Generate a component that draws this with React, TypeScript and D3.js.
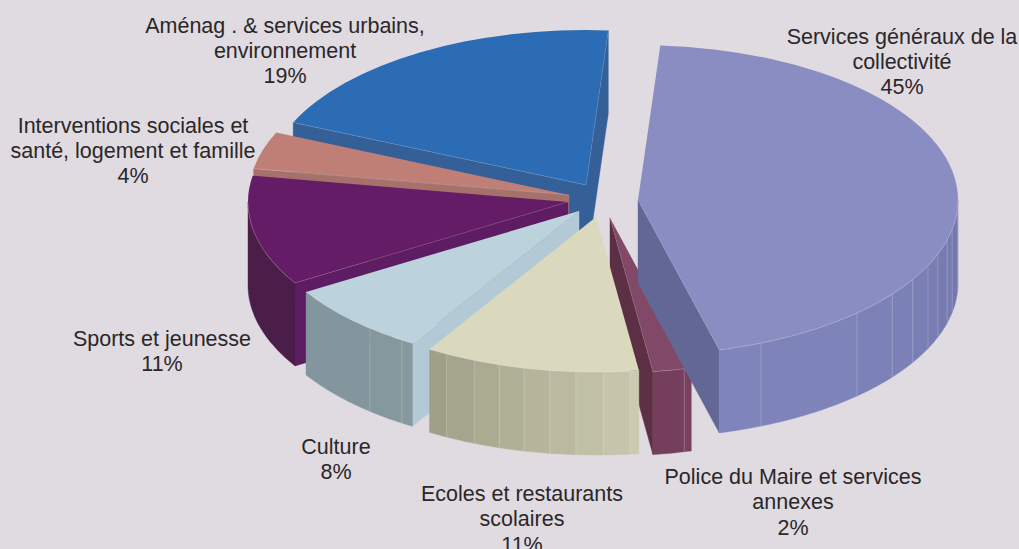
import React from "react";
import * as d3 from "d3";

const WIDTH = 1019;
const HEIGHT = 549;

// Data
const categories = ["Services généraux", "Police", "Ecoles", "Culture", "Sports", "Interventions", "Aménag"];
const shareValues = [44.8, 1.95, 10.85, 7.55, 11.45, 3.9, 19.5];
const labelLines = [
  ["Services généraux de la", "collectivité", "45%"],
  ["Police du Maire et services", "annexes", "2%"],
  ["Ecoles et restaurants", "scolaires", "11%"],
  ["Culture", "8%"],
  ["Sports et jeunesse", "11%"],
  ["Interventions sociales et", "santé, logement et famille", "4%"],
  ["Aménag . & services urbains,", "environnement", "19%"],
];
// Facet seams on the outer rim, in degrees of pie angle
const facetSeams = [
  [94, 101, 105, 110.4, 115, 120.8, 127.4, 136.8, 157.4],
  [166.6],
  [173.9, 178.7, 183.6, 188.3, 193, 197.6, 202.4, 207.8],
  [213.6, 220.8],
  [],
  [],
  [],
];

// Styles and layout
const topColors = ["#8a8dc2", "#814868", "#dad9bd", "#bcd3de", "#651c67", "#c07f76", "#2b6cb4"];
const wallColors = ["#636795", "#5c2f45", "#a8a78d", "#b3cad6", "#5e1c62", "#a6716b", "#355f97"];
const rimStart = ["#7277ab", "#7a4060", "#cbcab0", "#86999f", "#4b1d49", "#a6716b", "#355f97"];
const rimEnd = ["#7f84bb", "#753e5c", "#a0a088", "#83969d", "#4b1d49", "#a6716b", "#355f97"];
const BASE = { x: 590, y: 205 };
const explodeX = [48, 20, 6, -11, -22, -21, -4];
const explodeY = [-5, 13, 12, 6, -3, -10, -20];
const labelX = [902, 793, 522, 336, 162, 133, 285];
const labelY = [43.5, 484, 501, 453.5, 346, 132.5, 32.5];
const drawOrder = [6, 5, 4, 3, 1, 2, 0];
const RX = 320;
const RY = 155;
const DEPTH = 83;
const START_DEG = 4;
const LINE_H = 25.3;

const rad = (d: number) => (d * Math.PI) / 180;
const deg = (r: number) => (r * 180) / Math.PI;

const pieGen = d3
  .pie<number>()
  .sort(null)
  .startAngle(rad(START_DEG))
  .endAngle(rad(START_DEG + 360));
const arcs = pieGen(shareValues);
const arcGen = d3.arc<any>().innerRadius(0).outerRadius(RX);
const lineGen = d3.line<[number, number]>();

function at(cx: number, cy: number, a: number, dy = 0): [number, number] {
  return [cx + RX * Math.sin(rad(a)), cy - RY * Math.cos(rad(a)) + dy];
}

function rimBand(cx: number, cy: number, a0: number, a1: number): string {
  const n = Math.max(2, Math.ceil(a1 - a0));
  const steps = d3.range(n + 1).map((i) => a0 + ((a1 - a0) * i) / n);
  const upper = steps.map((a) => at(cx, cy, a));
  const lower = steps.slice().reverse().map((a) => at(cx, cy, a, DEPTH));
  return lineGen([...upper, ...lower]) + "Z";
}

function rimEdge(cx: number, cy: number, a0: number, a1: number): string {
  const n = Math.max(2, Math.ceil(a1 - a0));
  return lineGen(d3.range(n + 1).map((i) => at(cx, cy, a0 + ((a1 - a0) * i) / n))) || "";
}

function wall(cx: number, cy: number, a: number): string {
  const p = at(cx, cy, a);
  const q = at(cx, cy, a, DEPTH);
  return lineGen([[cx, cy], p, q, [cx, cy + DEPTH]]) + "Z";
}

function Slice({ i }: { i: number }) {
  const cx = BASE.x + explodeX[i];
  const cy = BASE.y + explodeY[i];
  const a0 = deg(arcs[i].startAngle);
  const a1 = deg(arcs[i].endAngle);
  const r0 = Math.max(a0, 90);
  const r1 = Math.min(a1, 270);
  const hasRim = r1 > r0;
  const cuts = hasRim ? [r0, ...facetSeams[i].filter((s) => s > r0 && s < r1), r1] : [];
  const color = d3.interpolateRgb(rimStart[i], rimEnd[i]);
  const startVisible = Math.sin(rad(a0)) < 0;
  const endVisible = Math.sin(rad(a1)) > 0;
  const edge = "#ffffff";
  return (
    <g>
      {startVisible && <path d={wall(cx, cy, a0)} fill={wallColors[i]} stroke={wallColors[i]} strokeWidth={0.4} />}
      {endVisible && <path d={wall(cx, cy, a1)} fill={wallColors[i]} stroke={wallColors[i]} strokeWidth={0.4} />}
      {cuts.slice(0, -1).map((c, k) => (
        <path
          key={k}
          d={rimBand(cx, cy, c, cuts[k + 1])}
          fill={color(cuts.length > 2 ? k / (cuts.length - 2) : 0.5)}
          stroke={color(cuts.length > 2 ? k / (cuts.length - 2) : 0.5)}
          strokeWidth={0.4}
        />
      ))}
      {cuts.slice(1, -1).map((c, k) => {
        const p = at(cx, cy, c);
        const q = at(cx, cy, c, DEPTH);
        return <line key={k} x1={p[0]} y1={p[1]} x2={q[0]} y2={q[1]} stroke={edge} strokeOpacity={0.2} strokeWidth={1} />;
      })}
      <path
        d={arcGen({ startAngle: arcs[i].startAngle, endAngle: arcs[i].endAngle }) || ""}
        transform={`translate(${cx},${cy}) scale(1,${RY / RX})`}
        fill={topColors[i]}
      />
      {hasRim && <path d={rimEdge(cx, cy, r0, r1)} fill="none" stroke={edge} strokeOpacity={0.2} strokeWidth={1} />}
      {startVisible && (
        <line x1={cx} y1={cy} x2={at(cx, cy, a0)[0]} y2={at(cx, cy, a0)[1]} stroke={edge} strokeOpacity={0.2} strokeWidth={0.8} />
      )}
      {endVisible && (
        <line x1={cx} y1={cy} x2={at(cx, cy, a1)[0]} y2={at(cx, cy, a1)[1]} stroke={edge} strokeOpacity={0.15} strokeWidth={0.8} />
      )}
    </g>
  );
}

export default function App() {
  return (
    <svg
      width={WIDTH}
      height={HEIGHT}
      viewBox={`0 0 ${WIDTH} ${HEIGHT}`}
      style={{ position: "absolute", left: 0, top: 0, display: "block", background: "#e0dae1" }}
    >
      <title>{categories.join(", ")}</title>
      {drawOrder.map((i) => (
        <Slice key={i} i={i} />
      ))}
      {labelLines.map((lines, i) => (
        <text
          key={i}
          textAnchor="middle"
          fontFamily="'Liberation Sans', Arial, sans-serif"
          fontSize={21.5}
          fill="#2a2728"
        >
          {lines.map((t, k) => (
            <tspan key={k} x={labelX[i]} y={labelY[i] + k * LINE_H}>
              {t}
            </tspan>
          ))}
        </text>
      ))}
    </svg>
  );
}
